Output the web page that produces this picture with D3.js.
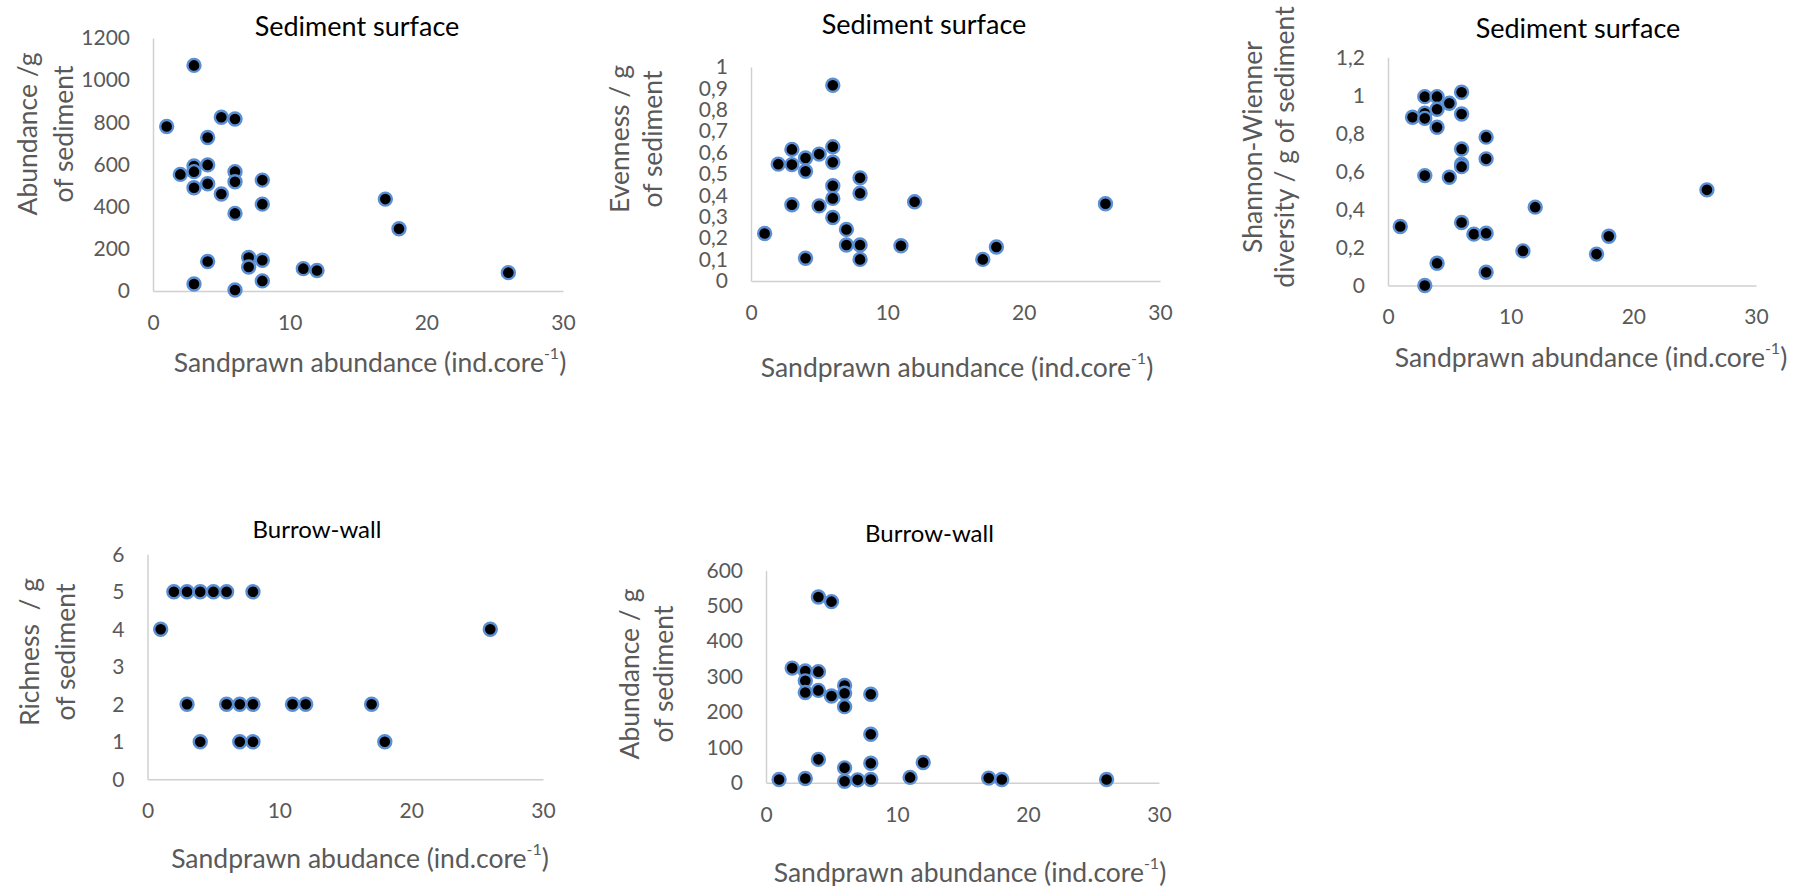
<!DOCTYPE html>
<html>
<head>
<meta charset="utf-8">
<script src="https://cdn.jsdelivr.net/npm/d3@7"></script>
<style>
  html, body { margin: 0; padding: 0; background: #fff; }
  svg { display: block; font-family: Lato, "Open Sans", sans-serif; }
  .axis-line { stroke: #d0d0d0; stroke-width: 1.5; fill: none; }
  .tick text { fill: #595959; font-size: 21px; font-family: Lato, "Open Sans", sans-serif; }
  .ttl { fill: #000; }
  .axttl { fill: #595959; font-size: 26.5px; white-space: pre; }
  .dot { fill: #000; stroke: #5b8fd4; stroke-width: 2.4; }
</style>
</head>
<body>
<svg id="chart" width="1802" height="886"></svg>
<script>
// Sandprawn abundance (ind. per core) against meiofauna metrics

// Sediment surface: abundance per g of sediment
const surfAbundX = [3, 1, 5, 6, 4, 3, 3, 2, 4, 6, 6, 8, 4, 3, 5, 8, 6, 17, 18, 7, 7, 8, 4, 11, 12, 26, 8, 3, 6];
const surfAbundY = [1070, 780, 824, 816, 728, 593, 566, 553, 598, 566, 518, 526, 509, 490, 460, 412, 368, 436, 295, 159, 114, 146, 140, 106, 97, 87, 48, 33, 5];

// Sediment surface: evenness per g of sediment
const surfEvenX = [6, 3, 6, 4, 5, 2, 3, 6, 4, 8, 6, 8, 6, 12, 26, 3, 5, 6, 7, 1, 7, 8, 11, 18, 4, 8, 17];
const surfEvenY = [0.915, 0.615, 0.627, 0.575, 0.593, 0.546, 0.544, 0.555, 0.513, 0.482, 0.445, 0.41, 0.386, 0.37, 0.361, 0.356, 0.351, 0.297, 0.241, 0.222, 0.168, 0.168, 0.165, 0.159, 0.106, 0.101, 0.101];

// Sediment surface: Shannon-Wiener diversity per g of sediment
const surfShannonX = [3, 4, 6, 5, 3, 4, 6, 2, 3, 4, 8, 6, 8, 6, 6, 3, 5, 26, 12, 1, 6, 7, 8, 18, 11, 17, 4, 8, 3];
const surfShannonY = [0.993, 0.993, 1.016, 0.958, 0.906, 0.927, 0.902, 0.885, 0.879, 0.832, 0.78, 0.718, 0.666, 0.638, 0.625, 0.578, 0.569, 0.503, 0.412, 0.31, 0.331, 0.27, 0.275, 0.259, 0.182, 0.165, 0.117, 0.07, 0.0];

// Burrow wall: richness per g of sediment
const wallRichX = [2, 3, 4, 5, 6, 8, 1, 26, 3, 6, 7, 8, 11, 12, 17, 4, 7, 8, 18];
const wallRichY = [5, 5, 5, 5, 5, 5, 4, 4, 2, 2, 2, 2, 2, 2, 2, 1, 1, 1, 1];

// Burrow wall: abundance per g of sediment
const wallAbundX = [4, 5, 2, 3, 4, 3, 6, 3, 4, 6, 5, 8, 6, 8, 4, 8, 12, 6, 1, 3, 6, 7, 8, 11, 17, 18, 26];
const wallAbundY = [525, 512, 324, 316, 314, 288, 275, 255, 261, 253, 245, 250, 215, 137, 66, 55, 57, 42, 9, 12, 4, 8, 9, 15, 13, 9, 9];

// Axis ticks
const xTicks = [0, 10, 20, 30];
const surfAbundTicks = [0, 200, 400, 600, 800, 1000, 1200];
const surfEvenTicks = [0, 0.1, 0.2, 0.3, 0.4, 0.5, 0.6, 0.7, 0.8, 0.9, 1];
const surfShannonTicks = [0, 0.2, 0.4, 0.6, 0.8, 1, 1.2];
const wallRichTicks = [0, 1, 2, 3, 4, 5, 6];
const wallAbundTicks = [0, 100, 200, 300, 400, 500, 600];

// Texts
const titleSurface = "Sediment surface";
const titleWall = "Burrow-wall";
const xLabelSurface = "Sandprawn abundance (ind.core";
const xLabelRichness = "Sandprawn abudance (ind.core";

// Decimal comma number format
const locale = d3.formatLocale({ decimal: ",", thousands: "", grouping: [3], currency: ["", ""] });
const fmt = locale.format("~g");

const svg = d3.select("#chart");

const panels = [
  { xs: surfAbundX, ys: surfAbundY, yTicks: surfAbundTicks,
    px: [153, 563], py: [291, 38],
    title: titleSurface, tPos: [357, 25], tSize: 27,
    xLabel: xLabelSurface, xlPos: [370, 362],
    yLabel: ["Abundance /g", "of sediment"], ylX: [27, 63], ylY: 134 },
  { xs: surfEvenX, ys: surfEvenY, yTicks: surfEvenTicks,
    px: [751, 1160], py: [281, 67],
    title: titleSurface, tPos: [924, 23], tSize: 27,
    xLabel: xLabelSurface, xlPos: [957, 367],
    yLabel: ["Evenness / g", "of sediment"], ylX: [619, 652], ylY: 139 },
  { xs: surfShannonX, ys: surfShannonY, yTicks: surfShannonTicks,
    px: [1388, 1756], py: [285.5, 57.3],
    title: titleSurface, tPos: [1578, 27], tSize: 27,
    xLabel: xLabelSurface, xlPos: [1591, 357],
    yLabel: ["Shannon-Wienner", "diversity / g of sediment"], ylX: [1252, 1284], ylY: 147 },
  { xs: wallRichX, ys: wallRichY, yTicks: wallRichTicks,
    px: [147.5, 543], py: [779.3, 554.3],
    title: titleWall, tPos: [317, 528.5], tSize: 24,
    xLabel: xLabelRichness, xlPos: [360, 858],
    yLabel: ["Richness  / g", "of sediment"], ylX: [29, 65], ylY: 652 },
  { xs: wallAbundX, ys: wallAbundY, yTicks: wallAbundTicks,
    px: [766, 1159], py: [782.7, 570.5],
    title: titleWall, tPos: [929.5, 532], tSize: 24,
    xLabel: xLabelSurface, xlPos: [970, 871.5],
    yLabel: ["Abundance / g", "of sediment"], ylX: [629, 663], ylY: 674 }
];

panels.forEach(p => {
  const g = svg.append("g");
  const x = d3.scaleLinear().domain([0, 30]).range(p.px);
  const y = d3.scaleLinear().domain([0, d3.max(p.yTicks)]).range(p.py);

  // x axis
  const gx = g.append("g")
    .attr("transform", `translate(0,${p.py[0]})`)
    .call(d3.axisBottom(x).tickValues(xTicks).tickFormat(fmt).tickSize(0).tickSizeOuter(0).tickPadding(24));

  // y axis
  const gy = g.append("g")
    .attr("transform", `translate(${p.px[0]},0)`)
    .call(d3.axisLeft(y).tickValues(p.yTicks).tickFormat(fmt).tickSize(0).tickSizeOuter(0).tickPadding(23));

  [gx, gy].forEach(a => {
    a.attr("font-family", null).attr("font-size", null);
    a.select(".domain").attr("class", "domain axis-line");
    a.selectAll(".tick line").remove();
  });

  // points
  g.append("g").selectAll("circle")
    .data(p.xs.map((v, i) => [v, p.ys[i]]))
    .join("circle")
    .attr("class", "dot")
    .attr("cx", d => x(d[0]))
    .attr("cy", d => y(d[1]))
    .attr("r", 6.5);

  // chart title
  g.append("text").attr("class", "ttl")
    .attr("x", p.tPos[0]).attr("y", p.tPos[1])
    .attr("text-anchor", "middle").attr("dominant-baseline", "central")
    .attr("font-size", p.tSize)
    .text(p.title);

  // x axis title with superscript
  const xt = g.append("text").attr("class", "axttl")
    .attr("x", p.xlPos[0]).attr("y", p.xlPos[1])
    .attr("text-anchor", "middle").attr("dominant-baseline", "central");
  xt.append("tspan").text(p.xLabel);
  xt.append("tspan").attr("font-size", 16).attr("dy", -10).text("-1");
  xt.append("tspan").attr("dy", 10).text(")");

  // y axis title, two lines
  p.yLabel.forEach((line, i) => {
    g.append("text").attr("class", "axttl")
      .attr("transform", `translate(${p.ylX[i]},${p.ylY}) rotate(-90)`)
      .attr("text-anchor", "middle").attr("dominant-baseline", "central")
      .text(line);
  });
});
</script>
</body>
</html>
